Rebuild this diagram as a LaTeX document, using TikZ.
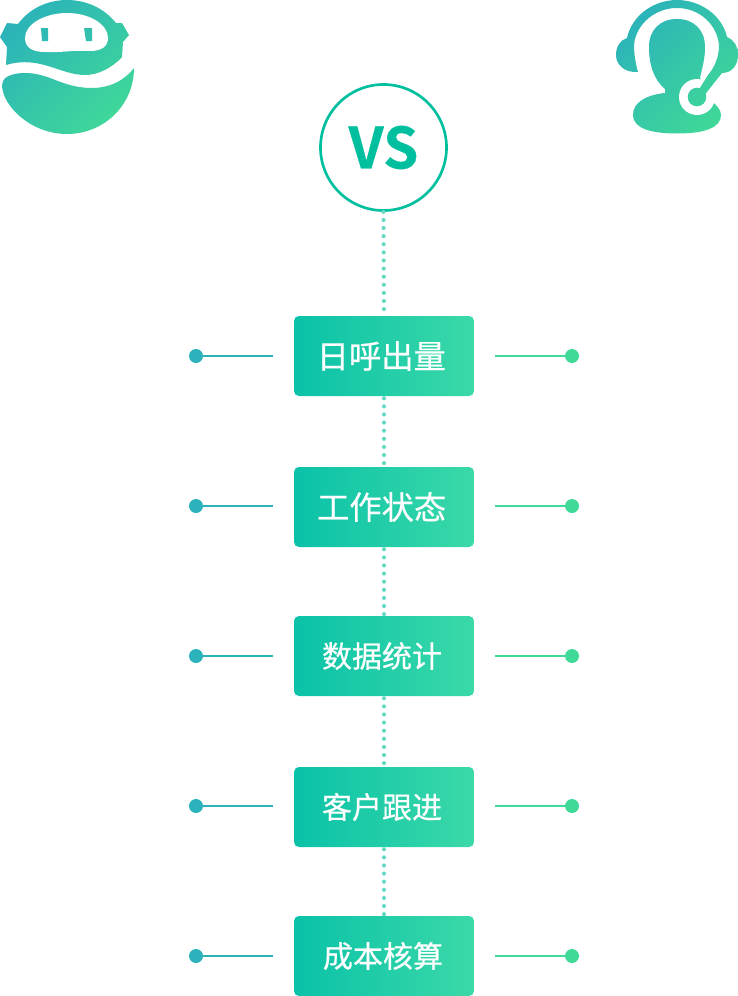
\documentclass[tikz,border=0pt]{standalone}
\usepackage{fontspec}
\newfontfamily\cjk[FakeBold=0.5]{Noto Sans CJK SC}
\newfontfamily\cjkb[FakeBold=0.5]{Noto Sans CJK SC Bold}
\definecolor{teal1}{HTML}{2BB2BA}
\definecolor{green1}{HTML}{40D998}
\definecolor{boxa}{HTML}{0AC2A8}
\definecolor{boxb}{HTML}{3BD9A8}
\definecolor{vsc}{HTML}{00BF9F}
\definecolor{dotc}{HTML}{66D8C2}
\newcommand{\gradfill}[2]{\begin{scope}\clip #2;\shade[left color=teal1,right color=green1,shading angle=45] #1;\end{scope}}
\tikzset{
  stepbox/.style={rounded corners=3.75pt,minimum width=135pt,minimum height=60pt,inner sep=0pt,
    left color=boxa,right color=boxb,text=white,font=\cjk},
  bigt/.style={font=\cjk\fontsize{24.2pt}{26pt}\selectfont},
  smallt/.style={font=\cjk\fontsize{22.5pt}{26pt}\selectfont},
  dotline/.style={draw=dotc,line width=3.1pt,line cap=round,dash pattern=on 0pt off 6.08pt},
  lcon/.style={draw=teal1,line width=1.5pt},
  rcon/.style={draw=green1,line width=1.5pt},
  ldot/.style={circle,fill=teal1,minimum size=10.5pt,inner sep=0pt},
  rdot/.style={circle,fill=green1,minimum size=10.5pt,inner sep=0pt},
}
\begin{document}
\begin{tikzpicture}[x=0.75pt,y=-0.75pt]
\useasboundingbox (0,0) rectangle (738,996);
% robot icon
\def\robrect{(-8,-8) rectangle (142,142)}
\gradfill{\robrect}{(18,24) .. controls (30,8) and (48,0) .. (67,0) .. controls (86,0) and (104,8) .. (116,23) -- (122,23) -- (129,35) -- (123,42) -- (122,57) .. controls (112,68) and (98,75) .. (85,75) .. controls (60,75) and (40,55) .. (6,65) -- (7,47) -- (0,37) -- (7,23) -- cycle}
\fill[white] (67,13) .. controls (45,13) and (25,24) .. (25,38) .. controls (25,48) and (33,52) .. (45,52) .. controls (60,53) and (70,50) .. (90,51) .. controls (102,51) and (108,46) .. (108,38) .. controls (108,24) and (89,13) .. (67,13) -- cycle;
\fill[teal1!80!green1] (41,28) -- (48,28) -- (48,41) -- (42,41) -- cycle;
\fill[teal1!65!green1] (84,28) -- (92,28) -- (92,41) -- (86,41) -- cycle;
\gradfill{\robrect}{(134,68) .. controls (134,105) and (104,134) .. (67,134) .. controls (30,134) and (2,105) .. (2,85) .. controls (2,78) and (10,73) .. (25,73) .. controls (50,73) and (62,88) .. (92,88) .. controls (110,88) and (125,80) .. (134,68) -- cycle}
% agent icon
\def\agrect{(610,-5) rectangle (744,139)}
\gradfill{\agrect}{(677,19) .. controls (660,19) and (649,30) .. (649,47) .. controls (649,65) and (654,80) .. (665,89) -- (665,93) .. controls (645,95) and (633,103) .. (633,115) .. controls (633,128) and (650,133.500) .. (677,133.500) .. controls (704,133.500) and (721,128) .. (721,115) .. controls (721,110) and (717,106) .. (713,102) -- (700,78) .. controls (702,68) and (705,60) .. (705,47) .. controls (705,30) and (694,19) .. (677,19) -- cycle}
\fill[white] (697,97) circle[radius=18];
\gradfill{\agrect}{(638,72) .. controls (636,65) and (634,55) .. (634,45) .. controls (636,24) and (655,8) .. (677,8) .. controls (699,8) and (717,24) .. (719,45) .. controls (719,58) and (714,68) .. (708,75) -- (698,91) -- (703,97) -- (722,73) .. controls (732,73) and (738,65) .. (738,55) .. controls (738,46) and (734,40) .. (727,37) .. controls (722,15) and (700,0) .. (677,0) .. controls (654,0) and (632,15) .. (627,38) .. controls (620,40) and (616,47) .. (616,55) .. controls (616,65) and (625,73) .. (638,72) -- cycle}
\gradfill{\agrect}{(697,97) circle[radius=9.300]}
% VS
\node[circle,draw=vsc,line width=2pt,fill=white,minimum size=94.5pt,inner sep=0pt,text=vsc,font=\cjkb\fontsize{42.5pt}{44pt}\selectfont] (vs) at (383.5,147.5) {VS};
% boxes
\node[stepbox,bigt] (b1) at (384,356) {\raisebox{-0.5pt}{日呼出量}\kern4pt};
\node[stepbox,bigt] (b2) at (384,507) {\raisebox{0.5pt}{工作状态}\kern3.5pt};
\node[stepbox,smallt] (b3) at (384,656) {数据统计\kern3pt};
\node[stepbox,smallt] (b4) at (384,807) {\raisebox{0.5pt}{客户跟进}\kern3pt};
\node[stepbox,smallt] (b5) at (384,956) {成本核算\kern1.5pt};
% dotted spine
\draw[dotline] (vs.south) -- (b1.north);
\draw[dotline,shorten <=1.5pt] (b1.south) -- (b2.north);
\draw[dotline,shorten <=1.5pt] (b2.south) -- (b3.north);
\draw[dotline,shorten <=1.5pt] (b3.south) -- (b4.north);
\draw[dotline,shorten <=1.5pt] (b4.south) -- (b5.north);
% side connectors
\foreach \i/\y in {1/356,2/506,3/656,4/806,5/956}{
  \node[ldot] (l\i) at (196,\y) {};
  \coordinate (le\i) at (273,\y);
  \draw[lcon] (l\i) -- (le\i);
  \node[rdot] (r\i) at (572,\y) {};
  \coordinate (re\i) at (495,\y);
  \draw[rcon] (re\i) -- (r\i);
}
\end{tikzpicture}
\end{document}
